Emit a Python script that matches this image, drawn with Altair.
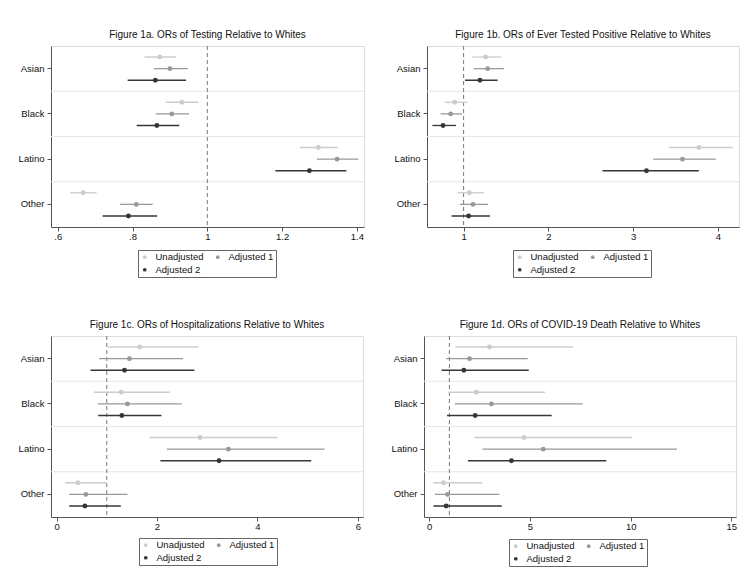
import altair as alt
import pandas as pd

categories = ["Asian", "Black", "Latino", "Other"]
series = ["Unadjusted", "Adjusted 1", "Adjusted 2"]
colors = ["#cccccc", "#999999", "#363636"]

# Figure 1a: rows = series (Unadjusted, Adjusted 1, Adjusted 2), cols = categories
a_or = [[0.873, 0.932, 1.297, 0.668], [0.900, 0.905, 1.347, 0.810], [0.861, 0.865, 1.273, 0.789]]
a_lo = [[0.832, 0.889, 1.247, 0.633], [0.857, 0.862, 1.293, 0.767], [0.787, 0.811, 1.182, 0.720]]
a_hi = [[0.917, 0.976, 1.349, 0.704], [0.948, 0.951, 1.404, 0.854], [0.943, 0.925, 1.372, 0.866]]

# Figure 1b
b_or = [[1.260, 0.894, 3.776, 1.067], [1.283, 0.847, 3.583, 1.111], [1.193, 0.757, 3.158, 1.059]]
b_lo = [[1.103, 0.776, 3.422, 0.926], [1.118, 0.729, 3.237, 0.957], [1.016, 0.631, 2.639, 0.858]]
b_hi = [[1.448, 1.044, 4.177, 1.240], [1.476, 0.985, 3.976, 1.288], [1.401, 0.910, 3.776, 1.311]]

# Figure 1c
c_or = [[1.657, 1.286, 2.857, 0.425], [1.452, 1.412, 3.420, 0.584], [1.353, 1.300, 3.235, 0.565]]
c_lo = [[1.028, 0.743, 1.857, 0.173], [0.849, 0.823, 2.195, 0.252], [0.676, 0.829, 2.068, 0.252]]
c_hi = [[2.824, 2.254, 4.394, 0.994], [2.519, 2.493, 5.336, 1.412], [2.744, 2.088, 5.070, 1.280]]

# Figure 1d
d_or = [[2.99, 2.34, 4.71, 0.71], [2.00, 3.09, 5.66, 0.91], [1.72, 2.28, 4.08, 0.84]]
d_lo = [[1.29, 0.99, 2.23, 0.21], [0.84, 1.27, 2.64, 0.28], [0.61, 0.88, 1.92, 0.21]]
d_hi = [[7.14, 5.75, 10.08, 2.63], [4.89, 7.62, 12.30, 3.48], [4.94, 6.08, 8.79, 3.60]]

titles = [
    "Figure 1a. ORs of Testing Relative to Whites",
    "Figure 1b. ORs of Ever Tested Positive Relative to Whites",
    "Figure 1c. ORs of Hospitalizations Relative to Whites",
    "Figure 1d. ORs of COVID-19 Death Relative to Whites",
]

FONT = "Liberation Sans"


def make_df(ors, los, his):
    rows = []
    for s, name in enumerate(series):
        for c, cat in enumerate(categories):
            rows.append({"cat": cat, "series": name, "or": ors[s][c],
                         "lo": los[s][c], "hi": his[s][c]})
    return pd.DataFrame(rows)


def panel(title, df, domain, ticks, w, h, extent, lx, ly, strip_zero=False):
    y_axis = alt.Axis(title=None, tickSize=4, labelPadding=3, minExtent=extent,
                      maxExtent=extent, labelFontSize=9.5, labelColor="#111111",
                      domainColor="#555555", tickColor="#555555", grid=False)
    y_scale = alt.Scale(domain=categories, paddingInner=0, paddingOuter=0)
    yoff = alt.YOffset("series:N", sort=series,
                       scale=alt.Scale(domain=series, type="point", padding=0.95))
    x_scale = alt.Scale(domain=domain, nice=False, zero=False)
    x_axis = alt.Axis(title=None, values=ticks, format="~g", tickSize=4, labelPadding=0,
                      labelFontSize=9.5, labelColor="#111111", domainColor="#555555",
                      tickColor="#555555", grid=False,
                      **({"labelExpr": "replace(datum.label, '0.', '.')"} if strip_zero else {}))
    legend = alt.Legend(orient="none", legendX=lx, legendY=ly,
                        columns=2, direction="horizontal", title=None,
                        strokeColor="#666666", fillColor="#ffffff",
                        padding=2, symbolType="circle", symbolSize=14,
                        symbolStrokeWidth=0, labelFontSize=9.5,
                        labelFont=FONT, labelColor="#111111",
                        columnPadding=9, rowPadding=2, labelOffset=6)
    color = alt.Color("series:N", sort=series,
                      scale=alt.Scale(domain=series, range=colors), legend=legend)

    sep = alt.Chart(pd.DataFrame({"cat": categories[:3]})).mark_rule(
        color="#e6e6e6", strokeWidth=1).encode(
        y=alt.Y("cat:N", sort=categories, bandPosition=1, scale=y_scale, axis=y_axis),
        x=alt.value(0), x2=alt.value(w))

    vline = alt.Chart(pd.DataFrame({"ref": [1.0]})).mark_rule(
        color="#777777", strokeDash=[4, 3], strokeWidth=1).encode(
        x=alt.X("ref:Q", scale=x_scale, axis=x_axis))

    err = alt.Chart(df).mark_rule(strokeWidth=1.3).encode(
        y=alt.Y("cat:N", sort=categories, scale=y_scale, axis=y_axis),
        yOffset=yoff,
        x=alt.X("lo:Q", scale=x_scale, axis=x_axis),
        x2="hi:Q",
        color=color)

    pts = alt.Chart(df).mark_circle(size=24, opacity=1).encode(
        y=alt.Y("cat:N", sort=categories, scale=y_scale, axis=y_axis),
        yOffset=yoff,
        x=alt.X("or:Q", scale=x_scale, axis=x_axis),
        color=color)

    return alt.layer(sep, vline, err, pts).properties(
        width=w, height=h,
        title=alt.TitleParams(title, fontSize=10, font=FONT, fontWeight="normal",
                              color="#111111", offset=6, anchor="middle"))


pa = panel(titles[0], make_df(a_or, a_lo, a_hi), [0.582, 1.419], [0.6, 0.8, 1, 1.2, 1.4],
           313, 181, 42, 87, 204, strip_zero=True)
pb = panel(titles[1], make_df(b_or, b_lo, b_hi), [0.568, 4.25], [1, 2, 3, 4],
           312, 181, 42, 86, 204)
pc = panel(titles[2], make_df(c_or, c_lo, c_hi), [-0.11, 6.10], [0, 2, 4, 6],
           312, 181, 39, 88, 202)
pd_ = panel(titles[3], make_df(d_or, d_lo, d_hi), [-0.26, 15.23], [0, 5, 10, 15],
            312, 181, 39, 85, 203)

res = dict(x="independent", y="independent", color="independent")

row1 = alt.hconcat(pa, pb, spacing=19).resolve_scale(**res).resolve_legend(color="independent")
row2 = alt.hconcat(pc, pd_, spacing=20).resolve_scale(**res).resolve_legend(color="independent")

chart = alt.vconcat(row1, row2, spacing=41).resolve_scale(**res).resolve_legend(
    color="independent").properties(
    padding={"top": 21, "left": 0, "right": 0, "bottom": 0}
).configure_view(stroke=None).configure(font=FONT)

chart.save("out.html", embed_options={"renderer": "svg", "actions": False})
